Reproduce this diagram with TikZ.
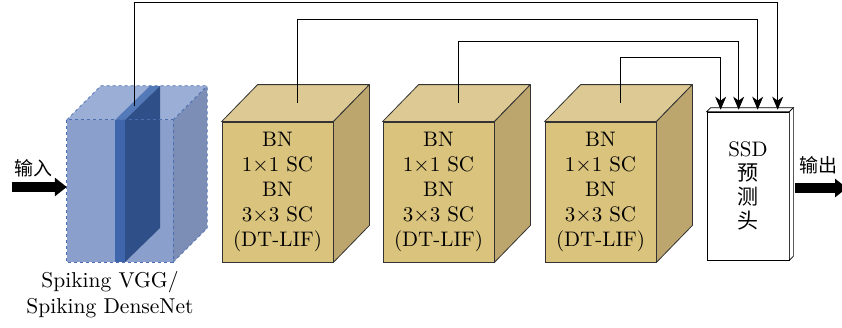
\documentclass[tikz,border=0pt]{standalone}
\usepackage{fontspec}
\setmainfont{lmroman10-regular.otf}[ItalicFont=lmroman10-italic.otf, BoldFont=lmroman10-bold.otf]
\newfontfamily\cjk{Noto Sans CJK SC}
\usetikzlibrary{arrows.meta,calc}

% palette
\definecolor{cubefrontc}{HTML}{DAC37D}
\definecolor{cubetopc}{HTML}{DDC993}
\definecolor{cubesidec}{HTML}{BCA66D}
\definecolor{cubeedgec}{HTML}{333333}
\definecolor{bluefrontc}{HTML}{8A9FCC}
\definecolor{bluetopc}{HTML}{9AAED6}
\definecolor{bluesidec}{HTML}{7C8EB6}
\definecolor{blueedgec}{HTML}{4B6EB0}
\definecolor{slabfrontc}{HTML}{3F66AC}
\definecolor{slabtopc}{HTML}{5479B8}
\definecolor{slabsidec}{HTML}{2F4F88}

\tikzset{
  txt/.style={font=\fontsize{21}{25}\selectfont},
  cubeface/.style={txt, draw=cubeedgec, fill=cubefrontc, line width=0.8pt,
    minimum width=111pt, minimum height=140pt, inner sep=0pt, align=center},
  cubeline/.style={draw=cubeedgec, line width=0.8pt, line join=round},
  blueface/.style={fill=bluefrontc, minimum width=106pt, minimum height=142pt, inner sep=0pt},
  blueoutline/.style={draw=blueedgec, line width=0.8pt, dashed},
  ssdbox/.style={draw=black, fill=white, line width=0.7pt,
    minimum width=82pt, minimum height=148pt, inner sep=0pt, align=center,
    font=\fontsize{21}{24}\selectfont},
  ssdline/.style={draw=black, line width=0.7pt, fill=white},
  conn/.style={draw=black, line width=0.8pt, -{Stealth[length=13pt,width=11pt,inset=4pt]}},
  bigarrow/.style={draw=black, line width=10pt, -{Triangle[length=12pt,width=18pt]}},
  cjklabel/.style={font=\cjk\fontsize{19}{22}\selectfont, inner sep=0pt},
  backbonelabel/.style={font=\fontsize{21.5}{26}\selectfont, align=center, inner sep=0pt}
}

\begin{document}
\begin{tikzpicture}[x=1pt,y=-1pt]
\useasboundingbox (0,0) rectangle (842,327);

% backbone block with its inner slab
\node[blueface] (bb) at (120,191) {};
\fill[bluetopc] (bb.north west) -- ++(34,-34) -- ($(bb.north east)+(34,-34)$) -- (bb.north east) -- cycle;
\fill[bluesidec] (bb.north east) -- ++(34,-34) -- ($(bb.south east)+(34,-34)$) -- (bb.south east) -- cycle;
\fill[slabfrontc] (115,120) rectangle (125,262);
\fill[slabtopc] (115,120) -- (125,120) -- (160,86) -- (150,86) -- cycle;
\fill[slabsidec] (125,120) -- (160,86) -- (160,228) -- (125,262) -- cycle;
\draw[blueoutline] (bb.north west) rectangle (bb.south east);
\draw[blueoutline] (bb.north west) -- ++(34,-34) -- ($(bb.north east)+(34,-34)$) -- ($(bb.south east)+(34,-34)$) -- (bb.south east);
\draw[blueoutline] (bb.north east) -- ++(34,-34);
\coordinate (bs) at (134,106);
\node[backbonelabel] (bbl) at (110,295) {Spiking VGG/\\Spiking DenseNet};

% three residual blocks
\foreach \n/\cx in {c1/277.5, c2/438.5, c3/600.5} {
  \node[cubeface] (\n) at (\cx,192) {BN\\1×1 SC\\BN\\3×3 SC\\(DT-LIF)};
  \draw[cubeline, fill=cubetopc] (\n.north west) -- ++(36,-37) -- ($(\n.north east)+(36,-37)$) -- (\n.north east) -- cycle;
  \draw[cubeline, fill=cubesidec] (\n.north east) -- ++(36,-37) -- ($(\n.south east)+(36,-37)$) -- (\n.south east) -- cycle;
  \coordinate (\n t) at ($(\n.north)+(20,-19)$);
}

% detection head
\node[ssdbox] (ssd) at (748,186) {SSD\\{\cjk 预}\\{\cjk 测}\\{\cjk 头}};
\draw[ssdline] (ssd.north west) -- ++(4,-4) -- ($(ssd.north east)+(4,-4)$) -- (ssd.north east) -- cycle;
\draw[ssdline] (ssd.north east) -- ++(4,-4) -- ($(ssd.south east)+(4,-4)$) -- (ssd.south east) -- cycle;

% feature taps into the head
\coordinate (i1) at ($(ssd.north west)+(14,-2)$);
\coordinate (i2) at ($(ssd.north west)+(32,-2)$);
\coordinate (i3) at ($(ssd.north west)+(51,-2)$);
\coordinate (i4) at ($(ssd.north west)+(71,-2)$);
\draw[conn] (c3t) |- (i1 |- 0,57) -- (i1);
\draw[conn] (c2t) |- (i2 |- 0,41) -- (i2);
\draw[conn] (c1t) |- (i3 |- 0,19) -- (i3);
\draw[conn] (bs) |- (i4 |- 0,2) -- (i4);

% input and output
\coordinate (inp) at (12,187);
\draw[bigarrow] (inp) -- (inp -| bb.west);
\node[cjklabel] (lin) at (33,168) {输入};
\coordinate (outp) at (847,188);
\draw[bigarrow, shorten <=6pt] (ssd.east |- outp) -- (outp);
\node[cjklabel] (lout) at (818,165) {输出};
\end{tikzpicture}
\end{document}
